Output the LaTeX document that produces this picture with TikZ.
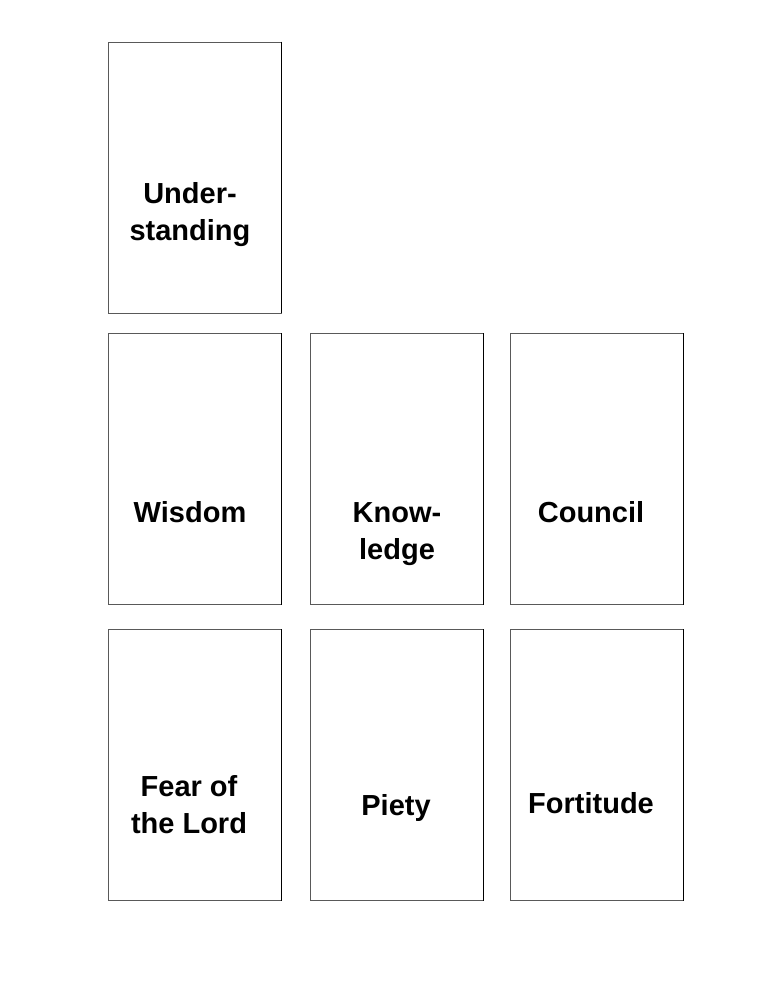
\documentclass[tikz,border=0pt]{standalone}
\usepackage{fontspec}
\setmainfont{Liberation Sans}
\usepackage{tikz}
\usetikzlibrary{positioning}
\tikzset{
    card/.style={draw=black!65, line width=0.6pt, minimum width=129.75pt, minimum height=203.25pt, inner sep=0pt},
    cardtext/.style={align=center, font=\fontsize{21.75}{27.75}\selectfont\bfseries}
}

\begin{document}
\begin{tikzpicture}[x=0.75pt, y=-0.75pt]
    \useasboundingbox (0,0) rectangle (768,994);

    % Karten
    \foreach \n/\x/\y in {under/194.5/177.5, wis/194.5/469, know/396.5/469, coun/596.5/469,
                          fear/194.5/765, piety/396.5/765, fort/596.5/765} {
        \node[card] (\n) at (\x, \y) {};
        \draw[line width=1.2pt] (\n.north east) -- (\n.south east);
    }

    % Beschriftungen
    \node[cardtext] (underlbl) at (190, 215) {Under-\\standing};
    \node[cardtext] (wislbl) at (190, 512) {Wisdom};
    \node[cardtext] (knowlbl) at (397, 534) {Know-\\ledge};
    \node[cardtext] (counlbl) at (591, 512) {Council};
    \node[cardtext] (fearlbl) at (189, 805) {Fear of\\the Lord};
    \node[cardtext] (pietylbl) at (396, 808) {Piety};
    \node[cardtext] (fortlbl) at (591, 803) {Fortitude};
\end{tikzpicture}
\end{document}
